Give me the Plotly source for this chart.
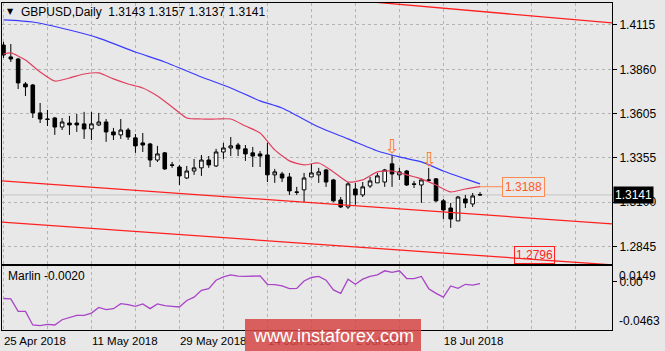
import plotly.graph_objects as go
import pandas as pd

# ---------------- data ----------------
dates = pd.bdate_range("2018-04-25", periods=66)
bars = list(range(66))

opens = [1.4000, 1.3932, 1.3920, 1.3777, 1.3771, 1.3611, 1.3576, 1.3582, 1.3530, 1.3553,
         1.3553, 1.3548, 1.3519, 1.3542, 1.3559, 1.3502, 1.3485, 1.3513, 1.3468, 1.3439,
         1.3433, 1.3341, 1.3382, 1.3313, 1.3301, 1.3238, 1.3278, 1.3296, 1.3341, 1.3307,
         1.3387, 1.3410, 1.3427, 1.3405, 1.3382, 1.3376, 1.3370, 1.3256, 1.3261, 1.3244,
         1.3158, 1.3170, 1.3244, 1.3256, 1.3284, 1.3227, 1.3112, 1.3072, 1.3175, 1.3141,
         1.3192, 1.3210, 1.3215, 1.3319, 1.3256, 1.3278, 1.3204, 1.3198, 1.3227, 1.3233,
         1.3107, 1.3066, 1.2992, 1.3118, 1.3089, 1.3143]
highs = [1.4018, 1.4006, 1.3926, 1.3788, 1.3777, 1.3668, 1.3628, 1.3588, 1.3582, 1.3594,
         1.3605, 1.3617, 1.3617, 1.3611, 1.3576, 1.3525, 1.3576, 1.3525, 1.3490, 1.3496,
         1.3439, 1.3422, 1.3387, 1.3330, 1.3313, 1.3307, 1.3347, 1.3370, 1.3364, 1.3405,
         1.3439, 1.3473, 1.3439, 1.3427, 1.3416, 1.3393, 1.3439, 1.3290, 1.3273, 1.3267,
         1.3187, 1.3267, 1.3319, 1.3296, 1.3290, 1.3233, 1.3129, 1.3215, 1.3210, 1.3215,
         1.3244, 1.3267, 1.3290, 1.3370, 1.3296, 1.3284, 1.3221, 1.3238, 1.3296, 1.3238,
         1.3118, 1.3095, 1.3135, 1.3141, 1.3152, 1.3157]
lows = [1.3926, 1.3903, 1.3748, 1.3708, 1.3582, 1.3553, 1.3536, 1.3485, 1.3513, 1.3485,
        1.3502, 1.3462, 1.3456, 1.3536, 1.3445, 1.3456, 1.3462, 1.3456, 1.3382, 1.3387,
        1.3301, 1.3330, 1.3284, 1.3296, 1.3198, 1.3233, 1.3256, 1.3250, 1.3296, 1.3301,
        1.3347, 1.3364, 1.3364, 1.3336, 1.3301, 1.3301, 1.3215, 1.3210, 1.3215, 1.3141,
        1.3141, 1.3101, 1.3244, 1.3210, 1.3187, 1.3101, 1.3066, 1.3061, 1.3084, 1.3129,
        1.3181, 1.3210, 1.3187, 1.3187, 1.3227, 1.3192, 1.3181, 1.3095, 1.3215, 1.3101,
        1.3003, 1.2952, 1.2992, 1.3066, 1.3072, 1.3137]
closes = [1.3943, 1.3920, 1.3783, 1.3760, 1.3611, 1.3576, 1.3574, 1.3530, 1.3559, 1.3542,
          1.3542, 1.3519, 1.3548, 1.3559, 1.3502, 1.3485, 1.3513, 1.3473, 1.3422, 1.3427,
          1.3341, 1.3376, 1.3290, 1.3311, 1.3250, 1.3278, 1.3296, 1.3341, 1.3313, 1.3387,
          1.3410, 1.3422, 1.3405, 1.3376, 1.3364, 1.3364, 1.3256, 1.3273, 1.3238, 1.3164,
          1.3156, 1.3238, 1.3267, 1.3273, 1.3215, 1.3107, 1.3072, 1.3204, 1.3141, 1.3187,
          1.3221, 1.3250, 1.3284, 1.3261, 1.3273, 1.3198, 1.3202, 1.3227, 1.3225, 1.3107,
          1.3055, 1.3003, 1.3129, 1.3095, 1.3135, 1.3141]

# red moving average (read at selected bars)
red_ma_bars = [0, 1, 3, 5, 7, 9, 11, 13, 15, 17, 19, 21, 23, 25, 27, 29, 31, 33, 35, 37,
               39, 41, 43, 45, 47, 49, 51, 53, 55, 57, 59, 61, 63, 65]
red_ma = [1.3949, 1.3955, 1.3914, 1.3846, 1.3794, 1.3811, 1.3834, 1.3840, 1.3806, 1.3777,
          1.3754, 1.3708, 1.3645, 1.3582, 1.3576, 1.3576, 1.3576, 1.3536, 1.3496, 1.3399,
          1.3336, 1.3313, 1.3324, 1.3273, 1.3215, 1.3227, 1.3273, 1.3278, 1.3256, 1.3233,
          1.3198, 1.3158, 1.3175, 1.3188]

# blue moving average (read at selected bars)
blue_ma_bars = [0, 4, 9, 13, 18, 22, 27, 31, 35, 38, 43, 47, 51, 54, 57, 60, 63, 65]
blue_ma = [1.4144, 1.4132, 1.4086, 1.4040, 1.3960, 1.3903, 1.3817, 1.3754, 1.3680, 1.3639,
           1.3530, 1.3462, 1.3393, 1.3359, 1.3330, 1.3278, 1.3233, 1.3204]

# channel lines: (bar, price) end points
chan_top_bars = [50, 83.0]
chan_top = [1.4248, 1.4127]
chan_mid_bars = [-0.2, 83.0]
chan_mid = [1.3221, 1.2975]
chan_low_bars = [-0.2, 83.0]
chan_low = [1.2985, 1.2740]

# fractal (up) arrows
fractal_bars = [53, 58]

# Marlin oscillator
marlin = [-0.0162, -0.0165, -0.0285, -0.0285, -0.0415, -0.0421, -0.0410, -0.0415, -0.0365, -0.0344,
          -0.0324, -0.0324, -0.0301, -0.0247, -0.0269, -0.0259, -0.0211, -0.0220, -0.0237, -0.0214,
          -0.0259, -0.0214, -0.0230, -0.0237, -0.0243, -0.0181, -0.0149, -0.0084, -0.0068, 0.0013,
          0.0045, 0.0064, 0.0052, 0.0049, 0.0050, 0.0055, -0.0026, -0.0030, -0.0042, -0.0068,
          -0.0065, 0.0006, 0.0039, 0.0049, 0.0013, -0.0080, -0.0113, 0.0023, -0.0026, 0.0023,
          0.0049, 0.0064, 0.0103, 0.0088, 0.0103, 0.0029, 0.0029, 0.0049, -0.0068, -0.0113,
          -0.0149, -0.0042, -0.0065, -0.0026, -0.0033, -0.0020]

price_ticks = [1.4115, 1.3860, 1.3605, 1.3355, 1.3100, 1.2845]
price_ticktext = ["1.4115", "1.3860", "1.3605", "1.3355", "1.3100", "1.2845"]
marlin_max, marlin_min = 0.0149, -0.0463
ma_label_value = 1.3188
low_label_value = 1.2796

grid_bars = list(range(0, 84, 6))
date_ticktext = [(f"{dates[b].day} {dates[b]:%b %Y}" if (b % 12 == 0 and b < len(dates)) else "")
                 for b in grid_bars]

# ---------------- style ----------------
BG = "#e8e8e8"
GRID = "#b4b4b4"
FONT = "Liberation Sans"
FS = 12
FS_DATE = 11.5

def px2x(px):
    return (px - 2) / 610.0

def py2y(py):
    return (330 - py) / 327.0

fig = go.Figure()

fig.add_trace(go.Candlestick(
    x=bars, open=opens, high=highs, low=lows, close=closes,
    increasing=dict(line=dict(color="black", width=1), fillcolor="white"),
    decreasing=dict(line=dict(color="black", width=1), fillcolor="black"),
    whiskerwidth=0, showlegend=False, xaxis="x", yaxis="y", hoverinfo="skip"))

for bx, by in [(chan_top_bars, chan_top), (chan_mid_bars, chan_mid), (chan_low_bars, chan_low)]:
    fig.add_trace(go.Scatter(x=bx, y=by, mode="lines", line=dict(color="#ff2020", width=1.3),
                             showlegend=False, xaxis="x", yaxis="y", hoverinfo="skip"))

fig.add_trace(go.Scatter(x=blue_ma_bars, y=blue_ma, mode="lines",
                         line=dict(color="#3a3aff", width=1.2, shape="spline", smoothing=0.6),
                         showlegend=False, xaxis="x", yaxis="y", hoverinfo="skip"))
fig.add_trace(go.Scatter(x=red_ma_bars, y=red_ma, mode="lines",
                         line=dict(color="#e0405e", width=1.2, shape="spline", smoothing=0.6),
                         showlegend=False, xaxis="x", yaxis="y", hoverinfo="skip"))

fig.add_trace(go.Scatter(x=bars, y=marlin, mode="lines",
                         line=dict(color="#a844c8", width=1.3),
                         showlegend=False, xaxis="x2", yaxis="y2", hoverinfo="skip"))

axis_common = dict(showline=True, linecolor="black", linewidth=1, mirror=True,
                   zeroline=False, gridcolor=GRID, griddash="3px,3px", gridwidth=1)

fig.update_layout(
    width=665, height=351,
    margin=dict(l=2, r=53, t=3, b=21),
    paper_bgcolor=BG, plot_bgcolor=BG,
    font=dict(family=FONT, size=FS, color="black"),
    xaxis=dict(domain=[0, 1], range=[-0.2, 83.0], anchor="y", tickvals=grid_bars,
               showticklabels=False, showgrid=True, rangeslider=dict(visible=False),
               **axis_common),
    yaxis=dict(domain=[py2y(264), 1], range=[1.2745, 1.4241], side="right",
               tickvals=price_ticks, ticktext=price_ticktext, ticks="outside", ticklen=4,
               tickcolor="black", showgrid=True, anchor="x", **axis_common),
    xaxis2=dict(domain=[0, 1], range=[-0.2, 83.0], anchor="y2", matches="x",
                tickvals=grid_bars, ticktext=date_ticktext, ticklabelposition="outside right",
                tickfont=dict(size=FS_DATE), showgrid=True, ticks="", **axis_common),
    yaxis2=dict(domain=[0, py2y(266)], range=[marlin_min, marlin_max], side="right",
                tickvals=[0.0], ticktext=["0.00"], ticks="outside", ticklen=4,
                tickcolor="black", showgrid=False, anchor="x2", **axis_common),
)

shapes = [
    dict(type="line", xref="paper", yref="y", x0=0, x1=1, y0=closes[-1], y1=closes[-1],
         line=dict(color="#c4c4c4", width=1), layer="below"),
    dict(type="rect", xref="paper", yref="paper", x0=px2x(245), x1=px2x(421),
         y0=py2y(352), y1=py2y(319), fillcolor="rgba(214,70,70,0.85)",
         line=dict(width=0), layer="above"),
]
fig.update_layout(shapes=shapes)

ann = []
# title
ann.append(dict(xref="paper", yref="paper", x=px2x(5), y=py2y(12), xanchor="left",
                yanchor="middle", showarrow=False, text="▼",
                font=dict(size=8, color="black", family="DejaVu Sans")))
ann.append(dict(xref="paper", yref="paper", x=px2x(19), y=py2y(12), xanchor="left",
                yanchor="middle", showarrow=False,
                text=f"GBPUSD,Daily  {opens[-1]:.4f} {highs[-1]:.4f} {lows[-1]:.4f} {closes[-1]:.4f}",
                font=dict(size=FS, color="black", family=FONT)))
# current price box
ann.append(dict(xref="paper", yref="y", x=1, y=closes[-1], xanchor="left", yanchor="middle",
                xshift=1, showarrow=False, text=f"{closes[-1]:.4f}", bgcolor="black",
                font=dict(size=FS, color="white", family=FONT), borderpad=1))
# MA value label
ann.append(dict(xref="x", yref="y", x=bars[-1], y=ma_label_value, ax=43, ay=0,
                showarrow=True, arrowhead=0, arrowwidth=1, arrowcolor="#ff8a50", standoff=0,
                text=f"{ma_label_value:.4f}", bordercolor="#ff8a50", borderwidth=1, borderpad=2,
                bgcolor=BG, font=dict(size=FS, color="#ff5a20", family=FONT)))
# lower channel label
ann.append(dict(xref="x", yref="y", x=72.4, y=low_label_value, showarrow=False,
                text=f"{low_label_value:.4f}", bordercolor="#ff2020", borderwidth=1, borderpad=1,
                font=dict(size=FS, color="#ff2020", family=FONT)))
# fractal arrows
for b in fractal_bars:
    ann.append(dict(xref="x", yref="y", x=b, y=highs[b], yanchor="bottom", yshift=-4,
                    showarrow=False, text="⇩",
                    font=dict(size=19, color="#ff8030", family="DejaVu Sans")))
# indicator labels
ann.append(dict(xref="paper", yref="paper", x=px2x(6), y=py2y(276), xanchor="left",
                yanchor="middle", showarrow=False, text=f"Marlin {marlin[-1]:.4f}",
                font=dict(size=FS, color="black", family=FONT)))
ann.append(dict(xref="paper", yref="y2", x=1, y=marlin_max, xanchor="left", yanchor="top",
                xshift=5, yshift=-1, showarrow=False, text=f"{marlin_max:.4f}",
                font=dict(size=FS, color="black", family=FONT)))
ann.append(dict(xref="paper", yref="y2", x=1, y=marlin_min, xanchor="left", yanchor="bottom",
                xshift=5, yshift=0, showarrow=False, text=f"{marlin_min:.4f}",
                font=dict(size=FS, color="black", family=FONT)))
# watermark
ann.append(dict(xref="paper", yref="paper", x=px2x(333), y=py2y(336), xanchor="center",
                yanchor="middle", showarrow=False, text="www.instaforex.com",
                font=dict(size=18, color="white", family=FONT)))
fig.update_layout(annotations=ann)

fig.write_html("out.html")
